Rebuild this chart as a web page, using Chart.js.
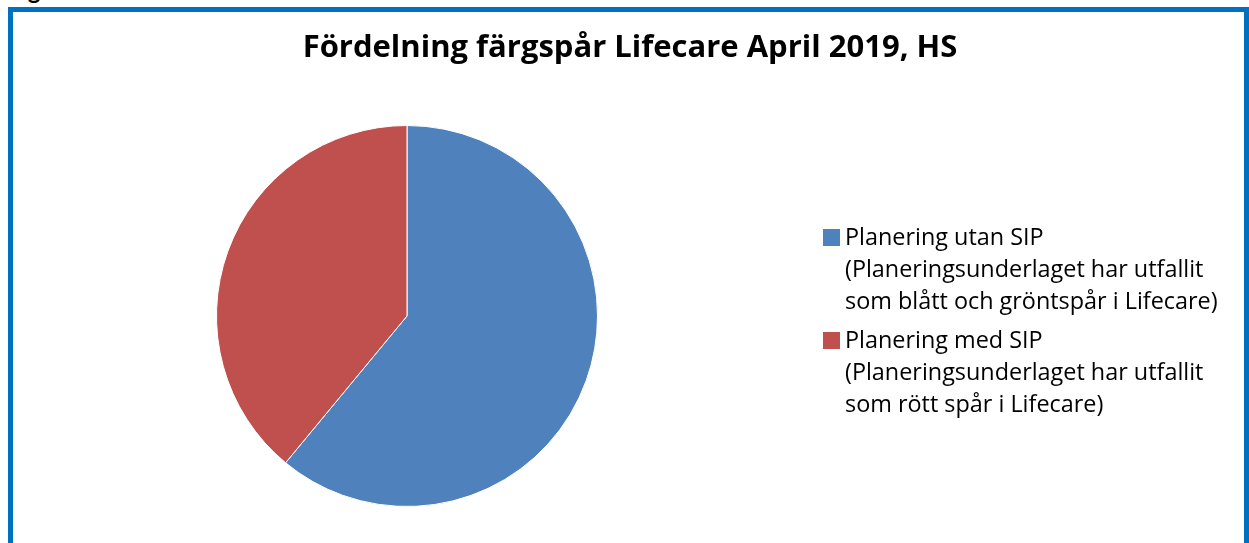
<!DOCTYPE html>
<html lang="sv">
<head>
<meta charset="utf-8">
<title>Fördelning färgspår Lifecare April 2019, HS</title>
<script src="https://cdn.jsdelivr.net/npm/chart.js@4.4.1/dist/chart.umd.min.js"></script>
<style>
  html, body { margin: 0; padding: 0; background: #fff; overflow: hidden; }
  body { width: 1249px; height: 543px; position: relative; font-family: "Open Sans", Lato, sans-serif; }
  .above { position: absolute; left: 8px; top: -22px; font: bold 24px/24px Lato, sans-serif; color: #000; }
  .frame { position: absolute; left: 8px; top: 7px; width: 1241px; height: 560px; box-sizing: border-box; border: 5px solid #0070C0; }
  .wrap { position: absolute; left: 13px; top: 12px; width: 1231px; height: 531px; }
  #title { position: absolute; left: 13px; width: 1234px; top: 30px; text-align: center; font: bold 31px/31px "Open Sans", sans-serif; color: #000; white-space: nowrap; }
  #legend { position: absolute; left: 823px; top: 220px; font-size: 23.4px; line-height: 32px; color: #000; }
  .item { position: relative; padding-left: 22px; margin-bottom: 7px; white-space: nowrap; }
  .sw { position: absolute; left: 0; top: 9px; width: 17px; height: 17px; }
</style>
</head>
<body>
<div class="above">Figur</div>
<div class="frame"></div>
<div class="wrap"><canvas id="myChart"></canvas></div>
<div id="title"></div>
<div id="legend"></div>
<script>
const chartTitle = 'Fördelning färgspår Lifecare April 2019, HS';
const categories = [
    ['Planering utan SIP', '(Planeringsunderlaget har utfallit', 'som blått och gröntspår i Lifecare)'],
    ['Planering med SIP', '(Planeringsunderlaget har utfallit', 'som rött spår i Lifecare)']
];
const values = [61, 39];
const colors = ['#4F81BD', '#C0504D'];

const ctx = document.getElementById('myChart').getContext('2d');
const myChart = new Chart(ctx, {
    type: 'pie',
    data: {
        labels: categories.map(c => c.join(' ')),
        datasets: [{
            data: values,
            backgroundColor: colors,
            borderColor: '#ffffff',
            borderWidth: 1
        }]
    },
    options: {
        responsive: true,
        maintainAspectRatio: false,
        animation: false,
        layout: {
            // pie sits left of the legend, under the title
            padding: { left: 203, right: 646, top: 100, bottom: 23 }
        },
        plugins: {
            legend: { display: false },
            tooltip: { enabled: false },
            title: { display: false }
        }
    }
});

// title and legend as html, same texts and colours as the chart
document.getElementById('title').textContent = chartTitle;
const legend = document.getElementById('legend');
categories.forEach((lines, i) => {
    const item = document.createElement('div');
    item.className = 'item';
    const sw = document.createElement('span');
    sw.className = 'sw';
    sw.style.background = colors[i];
    item.appendChild(sw);
    lines.forEach(line => {
        const d = document.createElement('div');
        d.textContent = line;
        item.appendChild(d);
    });
    legend.appendChild(item);
});
</script>
</body>
</html>
